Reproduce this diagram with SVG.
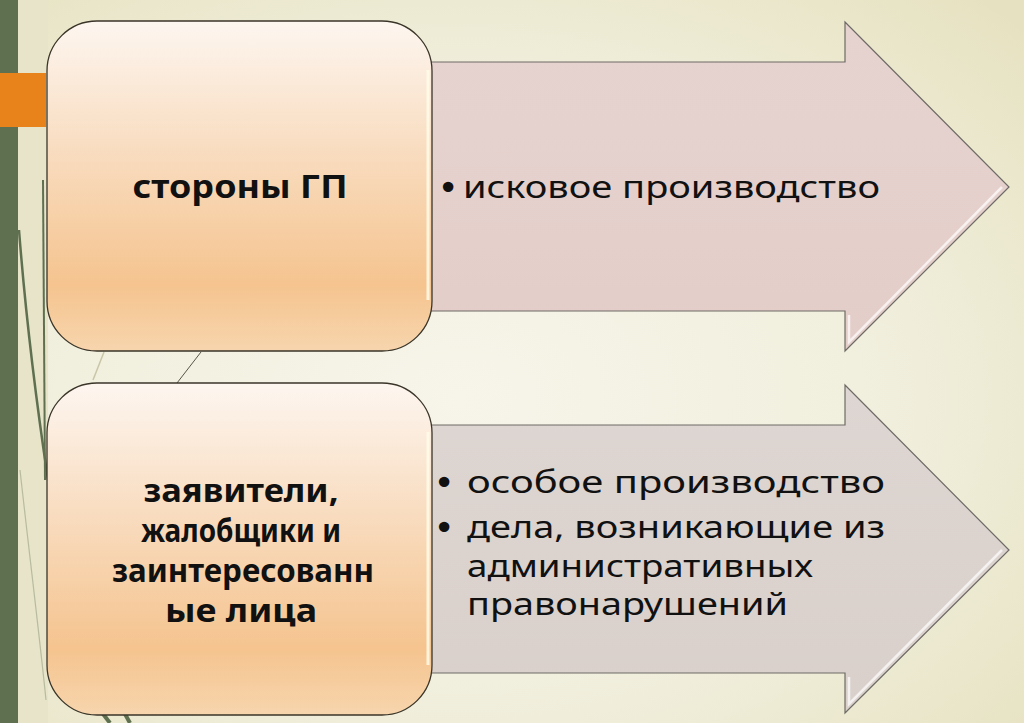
<svg xmlns="http://www.w3.org/2000/svg" width="1024" height="723" viewBox="0 0 1024 723">
<defs>
<radialGradient id="bg" cx="0.45" cy="0.55" r="0.75">
<stop offset="0" stop-color="#f7f5ea"/>
<stop offset="0.6" stop-color="#f0eedb"/>
<stop offset="1" stop-color="#e6e2c1"/>
</radialGradient>
<linearGradient id="boxg" x1="0" y1="0" x2="0" y2="1">
<stop offset="0" stop-color="#fdf6f0"/>
<stop offset="0.35" stop-color="#f9dfc5"/>
<stop offset="0.8" stop-color="#f5c48f"/>
<stop offset="1" stop-color="#f7d5ad"/>
</linearGradient>
<linearGradient id="ar1" x1="0" y1="0" x2="0" y2="1">
<stop offset="0" stop-color="#e6d3cf"/>
<stop offset="1" stop-color="#e3cdc9"/>
</linearGradient>
<linearGradient id="ar2" x1="0" y1="0" x2="0" y2="1">
<stop offset="0" stop-color="#ded6d2"/>
<stop offset="1" stop-color="#d9d0cb"/>
</linearGradient>
</defs>
<style>
.box{stroke:#3a3528;stroke-width:1.3;fill:url(#boxg)}
.hl{fill:none;stroke:#fffbe8;stroke-width:3;opacity:0.85}
.arr{stroke:#6e6a66;stroke-width:1.2}
.ahl{fill:none;stroke:#ffffff;stroke-width:2.5;opacity:0.7}
.bt{font-family:"Noto Sans","DejaVu Sans",sans-serif;font-weight:bold;font-size:32px;fill:#111;text-anchor:middle}
.rt{font-family:"Noto Sans","DejaVu Sans",sans-serif;font-size:30px;fill:#111}
.bu{font-family:"DejaVu Sans",sans-serif;font-size:36px;fill:#111;text-anchor:middle}
.deco{fill:none;stroke:#5f7050}
</style>
<rect x="0" y="0" width="1024" height="723" fill="url(#bg)"/>
<rect x="18" y="0" width="30" height="723" fill="#e7e4ca"/>
<g id="decor">
<path class="deco" stroke-width="2.5" d="M19,230 C26,320 36,400 48,480"/>
<path class="deco" stroke-width="2" d="M43,180 L45,480"/>
<path class="deco" stroke-width="1.2" opacity="0.35" d="M20,470 C30,560 40,640 46,700"/>
<path class="deco" stroke-width="4" d="M100,710 L110,723"/>
<path class="deco" stroke-width="4" d="M120,705 L130,723"/>
<path fill="none" stroke="#c9c6a8" stroke-width="1.5" d="M104,352 L93,380"/>
<path fill="none" stroke="#55564a" stroke-width="1" d="M201,352 L177,383"/>
</g>
<rect x="0" y="0" width="18" height="723" fill="#5f7050"/>
<rect x="0" y="73" width="46" height="54" fill="#e8821a"/>
<g id="arrow1">
<path class="arr" fill="url(#ar1)" d="M430,62 H845 V22 L1009,187 L845,351 V311 H430 Z"/>
<path class="ahl" d="M849,315 V342 L1002,187"/>
<text class="bu" x="448" y="200">•</text>
<text class="rt" x="463" y="198" textLength="417" lengthAdjust="spacingAndGlyphs">исковое производство</text>
</g>
<g id="arrow2">
<path class="arr" fill="url(#ar2)" d="M430,425 H845 V385 L1009,550 L845,713 V673 H430 Z"/>
<path class="ahl" d="M849,677 V704 L1002,550"/>
<text class="bu" x="444" y="495">•</text>
<text class="rt" x="467" y="493" textLength="418" lengthAdjust="spacingAndGlyphs">особое производство</text>
<text class="bu" x="444" y="540">•</text>
<text class="rt" x="467" y="538" textLength="418" lengthAdjust="spacingAndGlyphs">дела, возникающие из</text>
<text class="rt" x="467" y="577" textLength="346" lengthAdjust="spacingAndGlyphs">административных</text>
<text class="rt" x="467" y="615" textLength="321" lengthAdjust="spacingAndGlyphs">правонарушений</text>
</g>
<g id="box1">
<rect class="box" x="47" y="21" width="385" height="330" rx="50" ry="50"/>
<path class="hl" d="M428,70 V300"/>
<text class="bt" x="240" y="198" font-size="35" textLength="215" lengthAdjust="spacingAndGlyphs">стороны ГП</text>
</g>
<g id="box2">
<rect class="box" x="47" y="383" width="385" height="332" rx="50" ry="50"/>
<path class="hl" d="M428,432 V665"/>
<text class="bt" x="241" y="502" textLength="195" lengthAdjust="spacingAndGlyphs">заявители,</text>
<text class="bt" x="241" y="542" textLength="200" lengthAdjust="spacingAndGlyphs">жалобщики и</text>
<text class="bt" x="243" y="582" textLength="262" lengthAdjust="spacingAndGlyphs">заинтересованн</text>
<text class="bt" x="241" y="622" textLength="152" lengthAdjust="spacingAndGlyphs">ые лица</text>
</g>
</svg>
